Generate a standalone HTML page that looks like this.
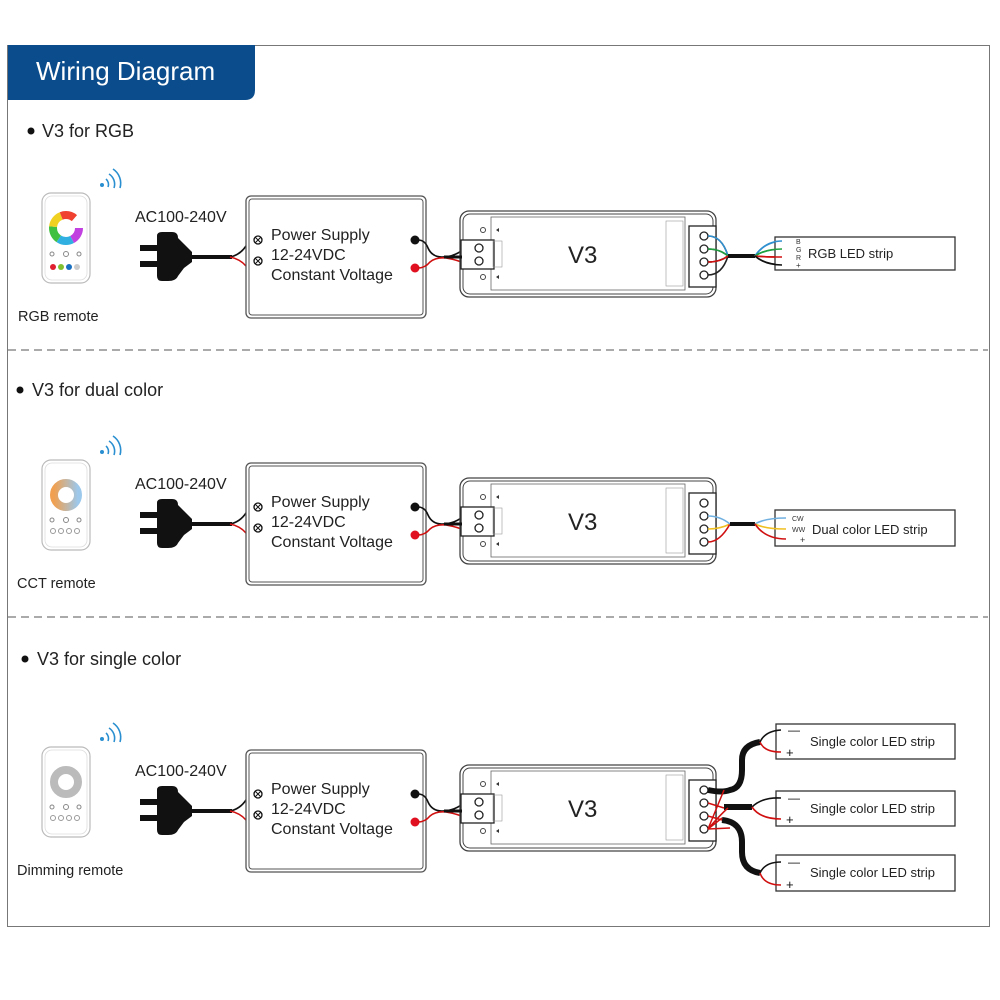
<!DOCTYPE html>
<html><head><meta charset="utf-8"><style>
html,body{margin:0;padding:0;background:#fff}
svg{display:block}
text{font-family:"Liberation Sans",sans-serif}
</style></head><body>
<svg width="1000" height="1000" viewBox="0 0 1000 1000" xmlns="http://www.w3.org/2000/svg">
<defs>
<linearGradient id="cct" x1="0" y1="0" x2="1" y2="0"><stop offset="0" stop-color="#f0a050"/><stop offset="1" stop-color="#9cc8ec"/></linearGradient>
<g id="plug">
 <rect x="140" y="245" width="20" height="6" fill="#111"/>
 <rect x="140" y="261" width="20" height="6" fill="#111"/>
 <path d="M157 236 Q157 232 162 232 L172 232 Q178 232 178 238 L184 244 L192 252 L192 262 L184 268 L178 276 Q176 281 168 281 L162 281 Q157 281 157 276 Z" fill="#111"/>
 <path d="M190 257 L232 257" stroke="#111" stroke-width="4" fill="none"/>
 <path d="M230 257 Q240 255 246 246 L258 240" stroke="#111" stroke-width="1.6" fill="none"/>
 <path d="M230 257 Q240 259 246 266 L258 261" stroke="#d01010" stroke-width="1.6" fill="none"/>
</g>
<g id="ps">
 <rect x="246" y="196" width="180" height="122" rx="5" fill="#fff" stroke="#555" stroke-width="1.3"/>
 <rect x="249" y="199" width="174" height="116" rx="3" fill="none" stroke="#555" stroke-width="1"/>
 <circle cx="258" cy="240" r="4" fill="#fff" stroke="#111" stroke-width="1.3"/>
 <path d="M255 237 L261 243 M261 237 L255 243" stroke="#111" stroke-width="1"/>
 <circle cx="258" cy="261" r="4" fill="#fff" stroke="#111" stroke-width="1.3"/>
 <path d="M255 258 L261 264 M261 258 L255 264" stroke="#111" stroke-width="1"/>
 <circle cx="415" cy="240" r="4.5" fill="#111"/>
 <circle cx="415" cy="268" r="4.5" fill="#e01020"/>
 <path d="M418 240 Q425 240 428 248 Q432 257 442 257 Q455 257 465 248 L478 244" stroke="#111" stroke-width="1.6" fill="none"/>
 <path d="M418 268 Q425 268 430 262 Q436 257 446 258 Q458 260 466 264 L478 262" stroke="#d01010" stroke-width="1.6" fill="none"/>
</g>
<g id="v3">
 <rect x="460" y="211" width="256" height="86" rx="9" fill="#fff" stroke="#444" stroke-width="1.3"/>
 <rect x="463" y="214" width="250" height="80" rx="7" fill="none" stroke="#444" stroke-width="1"/>
 <rect x="491" y="217" width="194" height="73" fill="#fff" stroke="#666" stroke-width="0.8"/>
 <circle cx="483" cy="230" r="2.5" fill="none" stroke="#444"/>
 <circle cx="483" cy="277" r="2.5" fill="none" stroke="#444"/>
 <rect x="461" y="240" width="33" height="29" fill="#fff" stroke="#222" stroke-width="1.3"/>
 <circle cx="479" cy="248" r="4" fill="#fff" stroke="#222" stroke-width="1.3"/>
 <circle cx="479" cy="261" r="4" fill="#fff" stroke="#222" stroke-width="1.3"/>
 <path d="M444 257 L462 257" stroke="#111" stroke-width="3"/>
 <rect x="493" y="241" width="9" height="26" fill="none" stroke="#999" stroke-width="0.6"/>
 <rect x="666" y="221" width="17" height="65" fill="none" stroke="#999" stroke-width="0.6"/>
 <rect x="689" y="226" width="27" height="61" fill="#fff" stroke="#222" stroke-width="1.3"/>
 <circle cx="704" cy="236" r="4" fill="#fff" stroke="#222" stroke-width="1.3"/>
 <circle cx="704" cy="249" r="4" fill="#fff" stroke="#222" stroke-width="1.3"/>
 <circle cx="704" cy="262" r="4" fill="#fff" stroke="#222" stroke-width="1.3"/>
 <circle cx="704" cy="275" r="4" fill="#fff" stroke="#222" stroke-width="1.3"/>
 <path d="M496 230 L499 228 L499 232Z M496 277 L499 275 L499 279Z" fill="#333"/>
</g>
<g id="wifi" fill="none" stroke="#2a8fd0" stroke-width="1.6">
 <circle cx="102" cy="185" r="2" fill="#2a8fd0" stroke="none"/>
 <path d="M106 179 A7 7 0 0 1 108 187"/>
 <path d="M109 174 A12 12 0 0 1 114 188"/>
 <path d="M113 169 A17 17 0 0 1 120 188"/>
</g>
<g id="remoteBody">
 <rect x="42" y="193" width="48" height="90" rx="9" fill="#fff" stroke="#bbb" stroke-width="1.2"/>
 <rect x="45" y="196" width="42" height="84" rx="7" fill="none" stroke="#ddd" stroke-width="0.8"/>
</g>
</defs>

<!-- frame -->
<rect x="7.5" y="45.5" width="982" height="881" fill="none" stroke="#777" stroke-width="1"/>
<path d="M8 45 L255 45 L255 90 Q255 100 245 100 L8 100 Z" fill="#0b4d8c"/>
<text x="36" y="80" font-size="26" fill="#fff">Wiring Diagram</text>
<path d="M8 350 L988 350 M8 617 L988 617" stroke="#777" stroke-width="1.2" stroke-dasharray="8,5"/>

<!-- Section 1 -->
<circle cx="31" cy="131" r="3.5" fill="#111"/>
<text x="42" y="137" font-size="18" fill="#222">V3 for RGB</text>
<use href="#wifi"/>
<use href="#remoteBody"/>
<circle cx="66" cy="228" r="13" fill="none" stroke="url(#rgbg)" stroke-width="8"/>
<circle cx="66" cy="228" r="13" fill="none" stroke="#c040e0" stroke-width="8" stroke-dasharray="14 68"/>
<circle cx="66" cy="228" r="13" fill="none" stroke="#30b0e0" stroke-width="8" stroke-dasharray="0 14 14 54"/>
<circle cx="66" cy="228" r="13" fill="none" stroke="#40c040" stroke-width="8" stroke-dasharray="0 28 14 40"/>
<circle cx="66" cy="228" r="13" fill="none" stroke="#f0d020" stroke-width="8" stroke-dasharray="0 42 14 26"/>
<circle cx="66" cy="228" r="13" fill="none" stroke="#f04030" stroke-width="8" stroke-dasharray="0 56 14 12"/>
<circle cx="53" cy="267" r="3" fill="#e02030"/><circle cx="61" cy="267" r="3" fill="#80c030"/><circle cx="69" cy="267" r="3" fill="#1a70c0"/><circle cx="77" cy="267" r="3" fill="#ccc"/>
<circle cx="52" cy="254" r="2" fill="none" stroke="#888"/><circle cx="66" cy="254" r="2.5" fill="none" stroke="#888"/><circle cx="79" cy="254" r="2" fill="none" stroke="#888"/>
<text x="18" y="321" font-size="14.5" fill="#222">RGB remote</text>
<text x="135" y="222" font-size="16" fill="#222">AC100-240V</text>
<use href="#plug"/>
<use href="#ps"/>
<text x="271" y="240" font-size="16" fill="#222">Power Supply</text>
<text x="271" y="260" font-size="16" fill="#222">12-24VDC</text>
<text x="271" y="280" font-size="16" fill="#222">Constant Voltage</text>
<use href="#v3"/>
<text x="568" y="263" font-size="24" fill="#222">V3</text>
<path d="M708 236 Q722 236 728 256 M708 249 Q720 249 728 256 M708 262 Q720 262 728 256 M708 275 Q722 275 728 256" fill="none" stroke-width="1.6" stroke="#222"/>
<path d="M708 236 Q722 236 728 256" fill="none" stroke="#3090d0" stroke-width="1.6"/>
<path d="M708 249 Q720 249 728 256" fill="none" stroke="#20a040" stroke-width="1.6"/>
<path d="M708 262 Q720 262 728 256" fill="none" stroke="#d01010" stroke-width="1.6"/>
<path d="M728 256 L755 256" stroke="#111" stroke-width="4"/>
<path d="M755 256 Q765 241 785 241" fill="none" stroke="#3090d0" stroke-width="1.6"/>
<path d="M755 256 Q765 249 785 249" fill="none" stroke="#20a040" stroke-width="1.6"/>
<path d="M755 256 Q765 257 785 257" fill="none" stroke="#d01010" stroke-width="1.6"/>
<path d="M755 256 Q765 265 785 265" fill="none" stroke="#111" stroke-width="1.6"/>
<rect x="775" y="237" width="180" height="33" fill="#fff" stroke="#333" stroke-width="1.3"/>
<path d="M755 256 Q765 241 782 241" fill="none" stroke="#3090d0" stroke-width="1.6"/>
<path d="M755 256 Q765 249 782 249" fill="none" stroke="#20a040" stroke-width="1.6"/>
<path d="M755 256 Q765 257 782 257" fill="none" stroke="#d01010" stroke-width="1.6"/>
<path d="M755 256 Q765 265 782 265" fill="none" stroke="#111" stroke-width="1.6"/>
<text x="796" y="244" font-size="7" fill="#333">B</text><text x="796" y="252" font-size="7" fill="#333">G</text><text x="796" y="260" font-size="7" fill="#333">R</text><text x="796" y="268" font-size="8" fill="#333">+</text>
<text x="808" y="258" font-size="13" fill="#222">RGB LED strip</text>

<!-- Section 2 -->
<g transform="translate(0,267)">
<use href="#wifi"/>
<use href="#remoteBody"/>
<circle cx="66" cy="228" r="12" fill="none" stroke="url(#cct)" stroke-width="8"/>
<circle cx="52" cy="253" r="2" fill="none" stroke="#888"/><circle cx="66" cy="253" r="2.5" fill="none" stroke="#888"/><circle cx="79" cy="253" r="2" fill="none" stroke="#888"/>
<circle cx="53" cy="264" r="2.5" fill="none" stroke="#999"/><circle cx="61" cy="264" r="2.5" fill="none" stroke="#999"/><circle cx="69" cy="264" r="2.5" fill="none" stroke="#999"/><circle cx="77" cy="264" r="2.5" fill="none" stroke="#999"/>
<use href="#plug"/>
<use href="#ps"/>
<use href="#v3"/>
<path d="M708 262 Q720 262 730 257" fill="none" stroke="#f0c020" stroke-width="1.6"/>
<path d="M708 275 Q720 275 730 257" fill="none" stroke="#d01010" stroke-width="1.6"/>
<path d="M708 249 Q720 249 730 257" fill="none" stroke="#70b0e0" stroke-width="1.6"/>
<path d="M730 257 L755 257" stroke="#111" stroke-width="4"/>
<rect x="775" y="243" width="180" height="36" fill="#fff" stroke="#333" stroke-width="1.3"/>
<path d="M755 257 Q765 251 786 251" fill="none" stroke="#70b0e0" stroke-width="1.6"/>
<path d="M755 257 Q765 262 786 262" fill="none" stroke="#f0c020" stroke-width="1.6"/>
<path d="M755 257 Q765 272 786 272" fill="none" stroke="#d01010" stroke-width="1.6"/>
<text x="792" y="254" font-size="7" fill="#333">CW</text><text x="792" y="265" font-size="7" fill="#333">WW</text><text x="800" y="276" font-size="9" fill="#333">+</text>
<text x="812" y="267" font-size="13" fill="#222">Dual color LED strip</text>
</g>
<circle cx="20" cy="390" r="3.5" fill="#111"/>
<text x="32" y="396" font-size="18" fill="#222">V3 for dual color</text>
<text x="17" y="588" font-size="14.5" fill="#222">CCT remote</text>
<text x="135" y="489" font-size="16" fill="#222">AC100-240V</text>
<text x="271" y="507" font-size="16" fill="#222">Power Supply</text>
<text x="271" y="527" font-size="16" fill="#222">12-24VDC</text>
<text x="271" y="547" font-size="16" fill="#222">Constant Voltage</text>
<text x="568" y="530" font-size="24" fill="#222">V3</text>

<!-- Section 3 -->
<g transform="translate(0,554)">
<use href="#wifi"/>
<use href="#remoteBody"/>
<circle cx="66" cy="228" r="12" fill="none" stroke="#bbb" stroke-width="8"/>
<circle cx="52" cy="253" r="2" fill="none" stroke="#888"/><circle cx="66" cy="253" r="2.5" fill="none" stroke="#888"/><circle cx="79" cy="253" r="2" fill="none" stroke="#888"/>
<circle cx="53" cy="264" r="2.5" fill="none" stroke="#999"/><circle cx="61" cy="264" r="2.5" fill="none" stroke="#999"/><circle cx="69" cy="264" r="2.5" fill="none" stroke="#999"/><circle cx="77" cy="264" r="2.5" fill="none" stroke="#999"/>
<use href="#plug"/>
<use href="#ps"/>
<use href="#v3"/>
</g>
<circle cx="25" cy="659" r="3.5" fill="#111"/>
<text x="37" y="665" font-size="18" fill="#222">V3 for single color</text>
<text x="17" y="875" font-size="14.5" fill="#222">Dimming remote</text>
<text x="135" y="776" font-size="16" fill="#222">AC100-240V</text>
<text x="271" y="794" font-size="16" fill="#222">Power Supply</text>
<text x="271" y="814" font-size="16" fill="#222">12-24VDC</text>
<text x="271" y="834" font-size="16" fill="#222">Constant Voltage</text>
<text x="568" y="817" font-size="24" fill="#222">V3</text>
<!-- single color wiring -->
<path d="M708 790 Q722 793 730 790 Q742 788 742 770 L742 760 Q742 745 760 742" fill="none" stroke="#111" stroke-width="6"/>
<path d="M724 807 L752 807" stroke="#111" stroke-width="6"/>
<path d="M722 820 Q742 822 742 842 L742 852 Q742 870 760 873" fill="none" stroke="#111" stroke-width="6"/>
<path d="M708 829 L724 790 M708 829 Q720 815 728 808 M708 829 L730 828 M708 829 L722 818 M708 803 L724 808 M708 816 L722 820" fill="none" stroke="#d01010" stroke-width="1.5"/>
<g>
 <rect x="776" y="724" width="179" height="35" fill="#fff" stroke="#333" stroke-width="1.3"/>
 <path d="M760 742 Q765 731 781 730" fill="none" stroke="#111" stroke-width="1.6"/>
 <path d="M760 742 Q764 752 781 752" fill="none" stroke="#d01010" stroke-width="1.6"/>
 <text x="788" y="734" font-size="12" fill="#111">—</text><text x="786" y="757" font-size="13" fill="#111">+</text>
 <text x="810" y="746" font-size="13" fill="#222">Single color LED strip</text>
</g>
<g>
 <rect x="776" y="791" width="179" height="35" fill="#fff" stroke="#333" stroke-width="1.3"/>
 <path d="M752 807 Q762 797 781 798" fill="none" stroke="#111" stroke-width="1.6"/>
 <path d="M752 807 Q760 819 781 819" fill="none" stroke="#d01010" stroke-width="1.6"/>
 <text x="788" y="802" font-size="12" fill="#111">—</text><text x="786" y="824" font-size="13" fill="#111">+</text>
 <text x="810" y="813" font-size="13" fill="#222">Single color LED strip</text>
</g>
<g>
 <rect x="776" y="855" width="179" height="36" fill="#fff" stroke="#333" stroke-width="1.3"/>
 <path d="M760 873 Q765 862 781 862" fill="none" stroke="#111" stroke-width="1.6"/>
 <path d="M760 873 Q764 885 781 885" fill="none" stroke="#d01010" stroke-width="1.6"/>
 <text x="788" y="866" font-size="12" fill="#111">—</text><text x="786" y="889" font-size="13" fill="#111">+</text>
 <text x="810" y="877" font-size="13" fill="#222">Single color LED strip</text>
</g>
</svg>
</body></html>
